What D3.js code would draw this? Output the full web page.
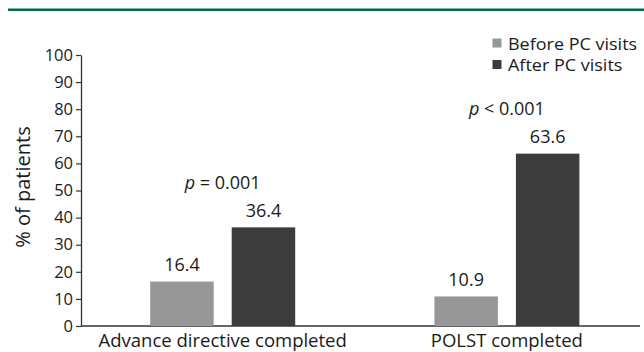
<!DOCTYPE html>
<html><head><meta charset="utf-8">
<script src="https://cdn.jsdelivr.net/npm/d3@7"></script>
<style>
html,body{margin:0;padding:0;background:#fff;}
text{font-family:"Open Sans",sans-serif;fill:#1a1a1a;}
</style></head>
<body>
<svg id="chart" width="644" height="352"></svg>
<script>
const categories = ["Advance directive completed", "POLST completed"];
const seriesNames = ["Before PC visits", "After PC visits"];
const beforeValues = [16.4, 10.9];
const afterValues = [36.4, 63.6];
const pLabels = ["= 0.001", "< 0.001"];
const yTicks = [0,10,20,30,40,50,60,70,80,90,100];
const colors = ["#979797", "#3c3c3c"];

const svg = d3.select("#chart");
// top green rule
svg.append("rect").attr("x",8).attr("y",8.5).attr("width",636).attr("height",2.5).attr("fill","#006b45");

const y = d3.scaleLinear().domain([0,100]).range([326,55]);
const x0 = d3.scaleBand().domain(categories).range([80.6,649]).padding(0);
const x1 = d3.scaleBand().domain(seriesNames).range([-72.5,72.5]).paddingInner(0.221).paddingOuter(0);

// y axis
const yAxis = d3.axisLeft(y).tickValues(yTicks).tickSize(5).tickSizeOuter(0).tickPadding(3);
const gy = svg.append("g").attr("transform","translate(81,0)").call(yAxis);
gy.select(".domain").attr("stroke","#333").attr("stroke-width",1.3);
gy.selectAll(".tick line").attr("stroke","#333").attr("stroke-width",1.2);
gy.selectAll(".tick text").style("font-size","16.5px").attr("fill","#1a1a1a").style("font-family","'Open Sans',sans-serif");

// x baseline
svg.append("line").attr("x1",81).attr("x2",640).attr("y1",326).attr("y2",326).attr("stroke","#333").attr("stroke-width",1.3);

// y title
svg.append("text").attr("transform","translate(30,187) rotate(-90)").attr("text-anchor","middle")
  .style("font-size","20px").text("% of patients");

const data = categories.map((c,i)=>({cat:c, vals:[beforeValues[i], afterValues[i]], p:pLabels[i]}));

const g = svg.append("g");
data.forEach(d=>{
  const cx = x0(d.cat) + x0.bandwidth()/2;
  d.vals.forEach((v,j)=>{
    const bx = cx + x1(seriesNames[j]);
    g.append("rect").attr("x",bx).attr("width",x1.bandwidth())
      .attr("y",y(v)).attr("height",y(0)-y(v)).attr("fill",colors[j]);
    g.append("text").attr("x",bx + x1.bandwidth()/2).attr("y",y(v)-10.5)
      .attr("text-anchor","middle").style("font-size","18px").text(v.toFixed(1));
  });
  const top = y(d3.max(d.vals));
  const t = g.append("text").attr("x",cx).attr("y",top-38.5).attr("text-anchor","middle").style("font-size","18px");
  t.append("tspan").style("font-style","italic").text("p");
  t.append("tspan").text(" " + d.p);
  g.append("text").attr("x",cx).attr("y",347).attr("text-anchor","middle").style("font-size","18.5px").text(d.cat);
});

// legend
const leg = svg.append("g");
seriesNames.forEach((s,i)=>{
  leg.append("rect").attr("x",492.5).attr("y",38.5 + i*21.5).attr("width",9).attr("height",9).attr("fill",colors[i]);
  leg.append("text").attr("transform",`translate(508,${49.7 + i*21.5}) scale(1.146,1)`)
    .style("font-size","15.7px").text(s);
});
</script>
</body></html>
